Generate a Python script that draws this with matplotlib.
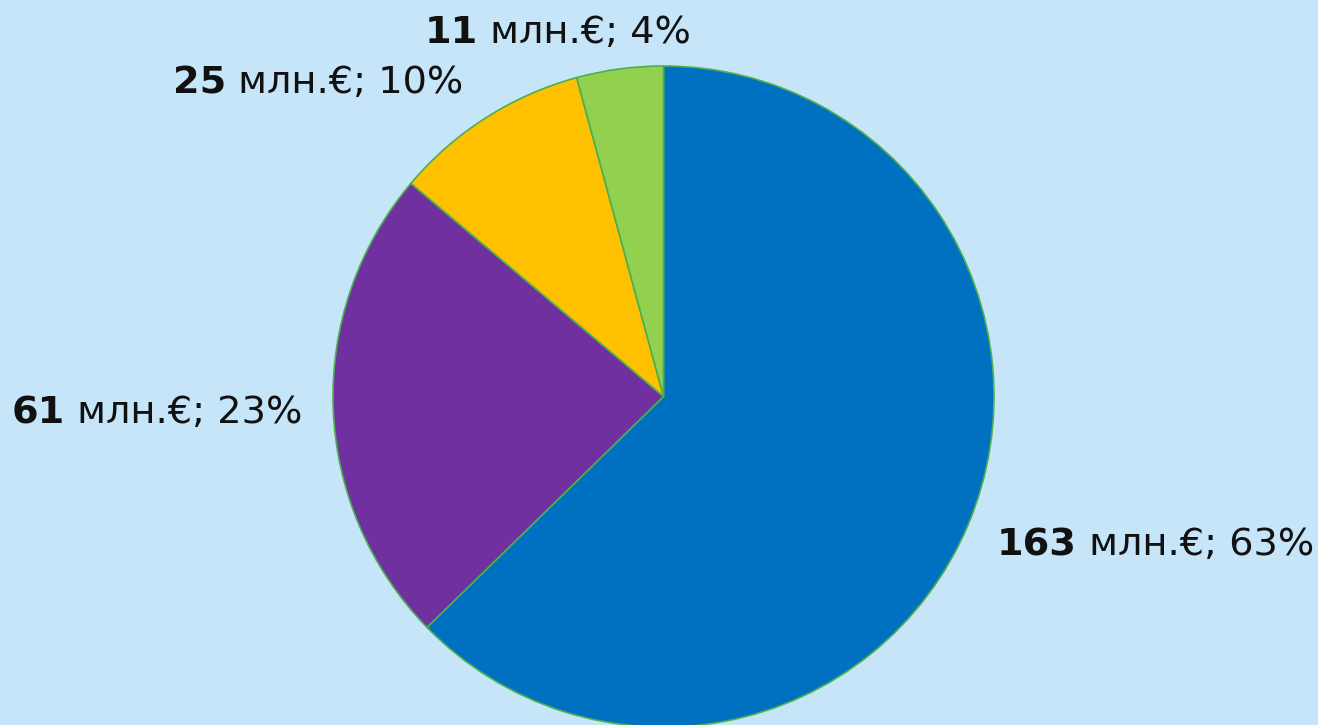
import matplotlib.pyplot as plt

values = [163, 61, 25, 11]
percents = [63, 23, 10, 4]
colors = ["#0070C0", "#7030A0", "#FFC000", "#92D050"]
# left x / baseline y of each label, in pixels from the top-left corner
label_pos = [(997, 555), (12, 423), (173, 93), (425, 43)]

W, H = 1318, 725
bg = "#C6E5F9"

fig = plt.figure(figsize=(W / 100, H / 100), dpi=100, facecolor=bg)
ax = fig.add_axes([0, 0, 1, 1])
ax.set_facecolor(bg)

ax.pie(values, colors=colors, startangle=90, counterclock=False,
       center=(663.5, H - 396.5), radius=330.5, frame=True,
       wedgeprops=dict(edgecolor="#4CAF50", linewidth=1.2))
ax.set_xlim(0, W)
ax.set_ylim(0, H)
ax.set_aspect("equal")
ax.axis("off")

fs = 27.5
for v, p, (x, y) in zip(values, percents, label_pos):
    t = ax.text(x, H - y, str(v), fontsize=fs, fontweight="bold",
                ha="left", va="baseline", color="#111111")
    ax.annotate(" млн.€; " + str(p) + "%", xy=(1, 0), xycoords=t,
                fontsize=fs, ha="left", va="bottom", color="#111111")

fig.savefig("out.png", dpi=100, facecolor=bg)
